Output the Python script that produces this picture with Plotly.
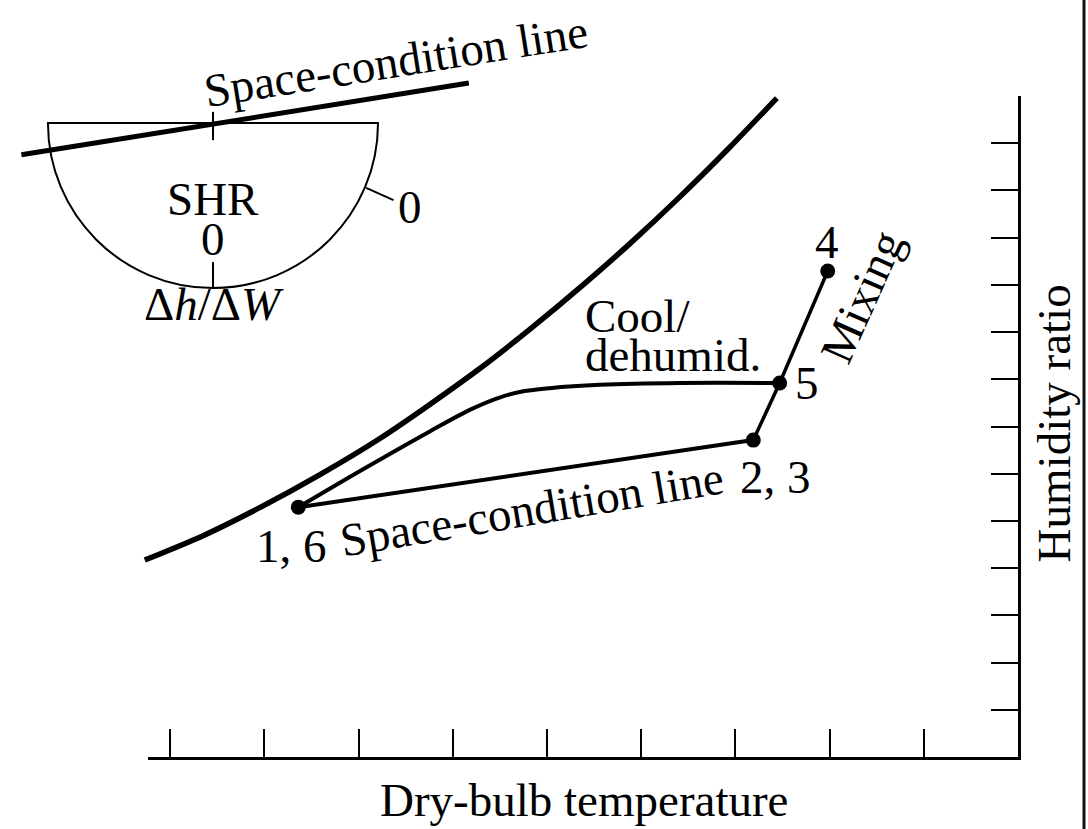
import plotly.graph_objects as go

# ---------------- data (chart units: x = dry-bulb tick units, y = humidity-ratio tick units)
X_TICKS = [1, 2, 3, 4, 5, 6, 7, 8, 9]
Y_TICKS = [1, 2, 3, 4, 5, 6, 7, 8, 9, 10, 11, 12, 13, 14]

# saturation curve
SAT_T = [0.73, 1.32, 1.95, 2.59, 3.23, 3.76, 4.29, 4.82, 5.38, 5.88, 6.41, 6.94, 7.44]
SAT_W = [4.17, 4.66, 5.28, 5.98, 6.75, 7.47, 8.23, 9.06, 9.99, 10.87, 11.86, 12.91, 13.95]

# cooling / dehumidifying process 1,6 -> 5
COOL_T = [2.36, 3.07, 3.76, 4.18, 4.45, 4.71, 5.03, 5.56, 6.41, 7.47]
COOL_W = [5.29, 6.12, 6.90, 7.35, 7.58, 7.73, 7.81, 7.88, 7.92, 7.92]

# state points
STATE_LABELS = ["1, 6", "2, 3", "5", "4"]
STATE_T = [2.36, 7.19, 7.47, 7.98]
STATE_W = [5.29, 6.71, 7.92, 10.29]

# space-condition line drawn across the SHR protractor
SC_T = [-0.58, 4.17]
SC_W = [12.75, 14.27]

# SHR protractor (inset)
PROT_CENTER = (1.454, 13.424)
PROT_RX, PROT_RY = 1.752, 3.494
PROT_TICK_T = [1.454, 1.454, None, 1.454, 1.454, None, 3.08, 3.37]
PROT_TICK_W = [13.66, 13.06, None, 10.48, 9.93, None, 12.05, 11.79]

# ---------------- figure
FONT = "Liberation Serif"
FS = 47
BLACK = "#000000"

fig = go.Figure()

fig.add_trace(go.Scatter(x=SAT_T, y=SAT_W, mode="lines",
                         line=dict(color=BLACK, width=5.5, shape="spline", smoothing=0.6),
                         hoverinfo="skip", showlegend=False))
fig.add_trace(go.Scatter(x=COOL_T, y=COOL_W, mode="lines",
                         line=dict(color=BLACK, width=4, shape="spline", smoothing=0.9),
                         hoverinfo="skip", showlegend=False))
# space-condition line 1,6 -> 2,3
fig.add_trace(go.Scatter(x=[STATE_T[0], STATE_T[1]], y=[STATE_W[0], STATE_W[1]], mode="lines",
                         line=dict(color=BLACK, width=4), hoverinfo="skip", showlegend=False))
# mixing 2,3 -> 5 -> 4
fig.add_trace(go.Scatter(x=STATE_T[1:], y=STATE_W[1:], mode="lines",
                         line=dict(color=BLACK, width=3.5), hoverinfo="skip", showlegend=False))
fig.add_trace(go.Scatter(x=STATE_T, y=STATE_W, mode="markers",
                         marker=dict(color=BLACK, size=15), hoverinfo="skip", showlegend=False))
# inset line and ticks
fig.add_trace(go.Scatter(x=SC_T, y=SC_W, mode="lines", line=dict(color=BLACK, width=5),
                         hoverinfo="skip", showlegend=False, cliponaxis=False))
fig.add_trace(go.Scatter(x=PROT_TICK_T, y=PROT_TICK_W, mode="lines", line=dict(color=BLACK, width=2),
                         hoverinfo="skip", showlegend=False, connectgaps=False))

# semicircle via cubic Beziers
cx, cy = PROT_CENTER
k = 0.5523
path = (f"M {cx-PROT_RX},{cy} "
        f"C {cx-PROT_RX},{cy-k*PROT_RY} {cx-k*PROT_RX},{cy-PROT_RY} {cx},{cy-PROT_RY} "
        f"C {cx+k*PROT_RX},{cy-PROT_RY} {cx+PROT_RX},{cy-k*PROT_RY} {cx+PROT_RX},{cy} Z")
fig.add_shape(type="path", path=path, xref="x", yref="y", line=dict(color=BLACK, width=2),
              layer="below")
# frame border at right edge of page
fig.add_shape(type="line", xref="paper", yref="paper", x0=1084/1088, x1=1084/1088, y0=0, y1=1,
              line=dict(color="#111111", width=3))

# ---------------- annotations
def label(text, x, y, angle=0, xanchor="center", size=FS):
    fig.add_annotation(text=text, x=x, y=y, xref="x", yref="y", showarrow=False,
                       textangle=angle, xanchor=xanchor, yanchor="middle",
                       font=dict(family=FONT, size=size, color=BLACK))

label("Space-condition line", 3.40, 14.74, -9)
label("SHR", 1.45, 11.82)
label("0", 1.45, 10.97)
label("0", 3.55, 11.65)
label("Δ<i>h</i>/Δ<i>W</i>", 1.47, 9.60)
label("Cool/", 5.38, 9.34, xanchor="left")
label("dehumid.", 5.38, 8.51, xanchor="left")
label("Mixing", 8.34, 9.74, -66)
label("Space-condition line", 4.84, 5.25, -9.5)
LABEL_POS = {"1, 6": (2.29, 4.47), "2, 3": (7.43, 5.93), "5": (7.76, 7.92), "4": (7.97, 10.90)}
for name in STATE_LABELS:
    px, py = LABEL_POS[name]
    label(name, px, py)
label("Dry-bulb temperature", 5.39, -0.91)
label("Humidity ratio", 10.38, 7.06, -90)

# ---------------- axes
W, H = 1088, 829
fig.update_layout(
    width=W, height=H, margin=dict(l=0, r=0, t=0, b=0),
    paper_bgcolor="white", plot_bgcolor="rgba(0,0,0,0)",
    xaxis=dict(range=[-0.807, 10.743], visible=False, domain=[0, 1]),
    yaxis=dict(range=[-1.524, 16.028], visible=False, domain=[0, 1]),
    xaxis2=dict(range=[0.764, 10], domain=[148/W, 1018/W], anchor="y2",
                showline=True, linecolor=BLACK, linewidth=3, mirror=False,
                ticks="inside", tickvals=X_TICKS, ticklen=28, tickwidth=2, tickcolor=BLACK,
                showticklabels=False, showgrid=False, zeroline=False),
    yaxis2=dict(range=[0, 14], domain=[(H-757)/H, (H-96)/H], anchor="x2", side="right",
                showline=True, linecolor=BLACK, linewidth=3,
                ticks="inside", tickvals=Y_TICKS, ticklen=27, tickwidth=2, tickcolor=BLACK,
                showticklabels=False, showgrid=False, zeroline=False),
)
fig.add_trace(go.Scatter(x=[None], y=[None], xaxis="x2", yaxis="y2", showlegend=False,
                         hoverinfo="skip"))

fig.write_html("out.html")
